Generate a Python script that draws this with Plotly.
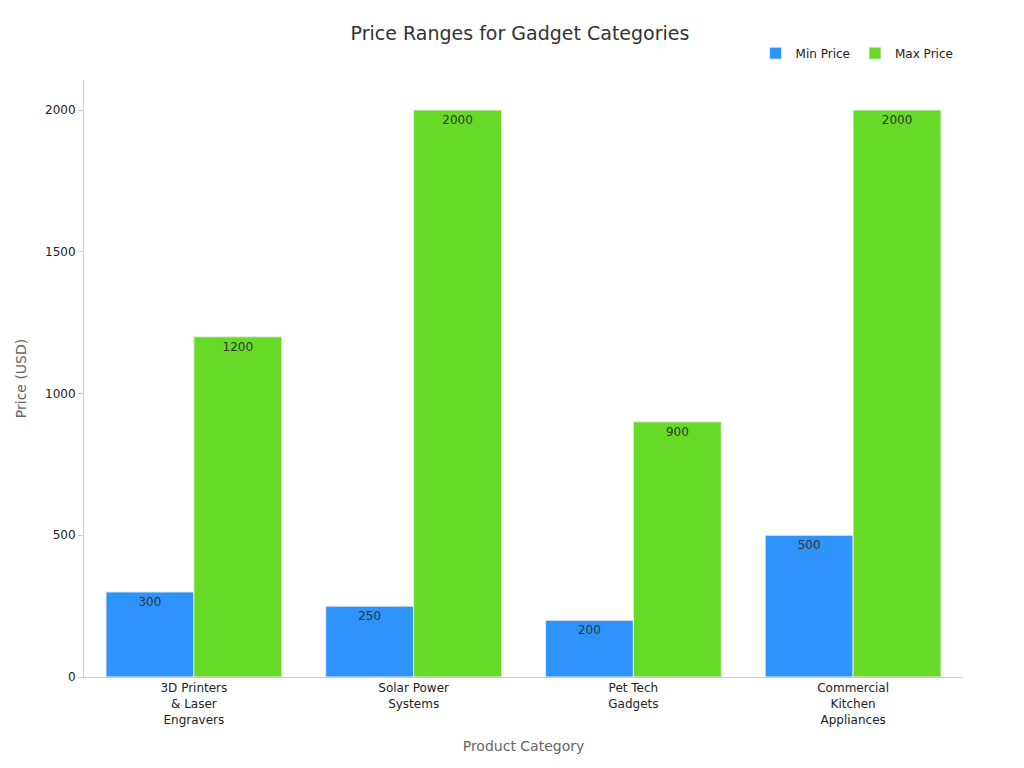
import plotly.graph_objects as go

categories = ["3D Printers<br>& Laser<br>Engravers", "Solar Power<br>Systems", "Pet Tech<br>Gadgets", "Commercial<br>Kitchen<br>Appliances"]
min_price = [300, 250, 200, 500]
max_price = [1200, 2000, 900, 2000]

fig = go.Figure()
fig.add_bar(name="Min Price", x=categories, y=min_price, text=min_price, textposition="inside",
            insidetextanchor="end", marker=dict(color="#2E93FA", line=dict(color="#E8E8E8", width=1)),
            textfont=dict(color="#333", size=12))
fig.add_bar(name="Max Price", x=categories, y=max_price, text=max_price, textposition="inside",
            insidetextanchor="end", marker=dict(color="#66DA26", line=dict(color="#E8E8E8", width=1)),
            textfont=dict(color="#333", size=12))
fig.update_layout(
    width=1024, height=768, barmode="group", bargap=0.2, bargroupgap=0,
    template="plotly_white", font=dict(family="DejaVu Sans", size=12, color="#222"),
    title=dict(text="Price Ranges for Gadget Categories", x=0.5, y=0.967, yanchor="middle", xanchor="center", font=dict(size=19, color="#333")),
    legend=dict(orientation="h", x=0.995, xanchor="right", y=1.045, yanchor="middle", font=dict(size=12)),
    margin=dict(l=68, r=69, t=72, b=99),
    xaxis=dict(title=dict(text="Product Category", font=dict(color="#666", size=14)), showline=True, linecolor="#ccc", showgrid=False, ticks=""),
    yaxis=dict(title=dict(text="Price (USD)", font=dict(color="#666", size=14)), range=[0, 2106], showline=True, linecolor="#ccc",
               showgrid=False, zeroline=False, ticks="outside", ticklen=5, tickcolor="#ccc", tickvals=[0, 500, 1000, 1500, 2000]),
    uniformtext=dict(minsize=12, mode="show"),
)
fig.write_html("out.html")
